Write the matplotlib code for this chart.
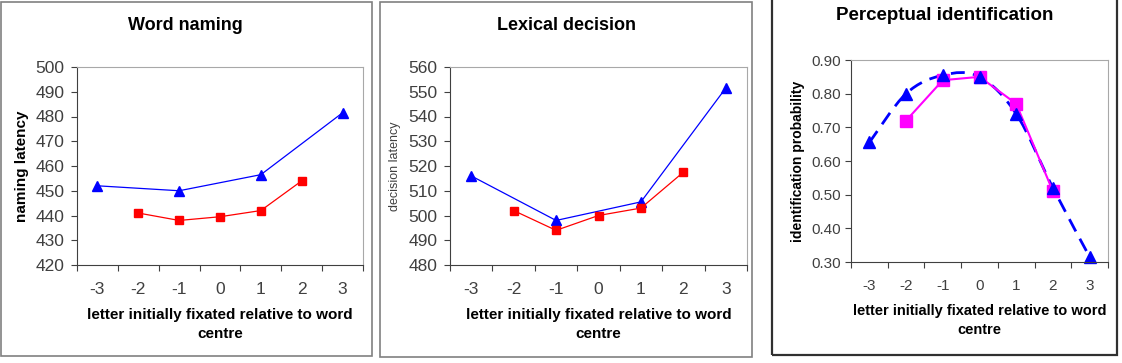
import numpy as np
import matplotlib
matplotlib.use('Agg')
import matplotlib.pyplot as plt
from matplotlib.patches import Rectangle, PathPatch
from matplotlib.path import Path

plt.rcParams['font.family'] = ['Liberation Sans', 'DejaVu Sans']

# categories on the x axis (letter position relative to word centre)
positions = [-3, -2, -1, 0, 1, 2, 3]
xlabel = 'letter initially fixated relative to word\ncentre'

# Word naming
naming_blue_x = [-3, -1, 1, 3]
naming_blue_y = [452, 450, 456.5, 481.5]
naming_red_x = [-2, -1, 0, 1, 2]
naming_red_y = [441, 438, 439.5, 442, 454]

# Lexical decision
lexical_blue_x = [-3, -1, 1, 3]
lexical_blue_y = [516, 498, 505.5, 551.5]
lexical_red_x = [-2, -1, 0, 1, 2]
lexical_red_y = [502, 494, 500, 503, 517.5]

# Perceptual identification
percept_blue_x = [-3, -2, -1, 0, 1, 2, 3]
percept_blue_y = [0.655, 0.80, 0.855, 0.85, 0.74, 0.52, 0.315]
percept_pink_x = [-2, -1, 0, 1, 2]
percept_pink_y = [0.72, 0.84, 0.85, 0.77, 0.51]

W, H = 1122, 363
fig = plt.figure(figsize=(W / 100, H / 100), dpi=100)


def px_axes(left, top, right, bottom):
    return fig.add_axes([left / W, (H - bottom) / H, (right - left) / W, (bottom - top) / H])


def frame(left, top, right, bottom, color, lw):
    fig.patches.append(Rectangle((left / W, (H - bottom) / H), (right - left) / W, (bottom - top) / H,
                                 transform=fig.transFigure, fill=False, edgecolor=color, linewidth=lw))


def style_axes(ax, ylim, yticks, fmt, tick_size, ypad):
    ax.set_xlim(-0.5, 6.5)
    ax.set_ylim(*ylim)
    ax.set_yticks(yticks)
    ax.set_yticklabels([fmt.format(v) for v in yticks])
    ax.set_xticks(np.arange(-0.5, 7, 1))
    ax.set_xticklabels([])
    ax.set_xticks(range(7), minor=True)
    ax.set_xticklabels([str(p) for p in positions], minor=True)
    ax.tick_params(axis='x', which='major', length=4, direction='out', color='#404040')
    ax.tick_params(axis='x', which='minor', length=0, pad=12, labelsize=tick_size, labelcolor='#404040')
    ax.tick_params(axis='y', length=4, direction='out', color='#404040', labelsize=tick_size,
                   labelcolor='#404040', pad=ypad)
    for s in ['top', 'right']:
        ax.spines[s].set_color('#a8a8a8')
    for s in ['left', 'bottom']:
        ax.spines[s].set_color('#404040')


def idx(xs):
    return [positions.index(x) for x in xs]


# panel frames
frame(1, 2, 372, 356, '#808080', 1.2)
frame(380, 2, 752, 357, '#808080', 1.2)
frame(772, -2, 1117, 355, '#303030', 1.6)

# Word naming
ax1 = px_axes(77, 67, 363, 265)
ax1.plot(idx(naming_blue_x), naming_blue_y, color='#0000ff', lw=0.9, marker='^', ms=7, mec='#0000ff')
ax1.plot(idx(naming_red_x), naming_red_y, color='#ff0000', lw=0.9, marker='s', ms=6, mec='#ff0000')
style_axes(ax1, (420, 500), list(range(420, 501, 10)), '{:d}', 12.5, 5)
ax1.set_xlabel(xlabel, fontsize=11, fontweight='bold', labelpad=8, linespacing=1.45)
ax1.set_ylabel('naming latency', fontsize=11, fontweight='bold', labelpad=5)
fig.text(185 / W, 1 - 25 / H, 'Word naming', ha='center', va='center', fontsize=13, fontweight='bold')

# Lexical decision
ax2 = px_axes(450, 67, 747, 265)
ax2.plot(idx(lexical_blue_x), lexical_blue_y, color='#0000ff', lw=0.9, marker='^', ms=7, mec='#0000ff')
ax2.plot(idx(lexical_red_x), lexical_red_y, color='#ff0000', lw=0.9, marker='s', ms=6, mec='#ff0000')
style_axes(ax2, (480, 560), list(range(480, 561, 10)), '{:d}', 12.5, 5)
ax2.set_xlabel(xlabel, fontsize=11, fontweight='bold', labelpad=8, linespacing=1.45)
ax2.set_ylabel('decision latency', fontsize=9, labelpad=5, color='#404040')
fig.text(566 / W, 1 - 25 / H, 'Lexical decision', ha='center', va='center', fontsize=13, fontweight='bold')

# Perceptual identification
ax3 = px_axes(851, 60, 1108, 262)
# smoothed dashed curve through the blue points (Catmull-Rom as cubic Bezier)
pts = np.column_stack([idx(percept_blue_x), percept_blue_y]).astype(float)
verts = [pts[0]]
codes = [Path.MOVETO]
for i in range(len(pts) - 1):
    p0 = pts[max(i - 1, 0)]
    p1 = pts[i]
    p2 = pts[i + 1]
    p3 = pts[min(i + 2, len(pts) - 1)]
    verts += [p1 + (p2 - p0) / 6, p2 - (p3 - p1) / 6, p2]
    codes += [Path.CURVE4] * 3
ax3.add_patch(PathPatch(Path(verts, codes), fill=False, edgecolor='#0000ff', lw=2,
                        linestyle=(0, (5, 3)), clip_on=False))
ax3.plot(idx(percept_pink_x), percept_pink_y, color='#ff00ff', lw=1.5, marker='s', ms=8, mec='#ff00ff')
ax3.plot(idx(percept_blue_x), percept_blue_y, ls='none', marker='^', ms=9, color='#0000ff', clip_on=False)
style_axes(ax3, (0.3, 0.9), [0.3, 0.4, 0.5, 0.6, 0.7, 0.8, 0.9], '{:.2f}', 11, 3)
ax3.set_xlabel(xlabel, fontsize=10.5, fontweight='bold', labelpad=8, linespacing=1.45)
ax3.set_ylabel('identification probability', fontsize=10, fontweight='bold', labelpad=5)
fig.text(945 / W, 1 - 15 / H, 'Perceptual identification', ha='center', va='center', fontsize=13.5, fontweight='bold')

fig.savefig('out.png', dpi=100, facecolor='white')
